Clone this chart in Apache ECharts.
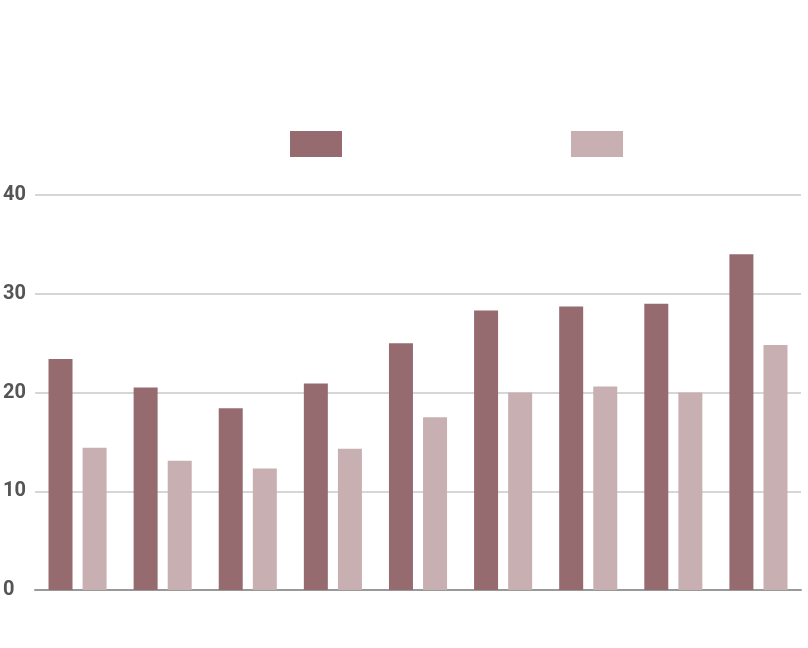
<!DOCTYPE html>
<html>
<head>
<meta charset="utf-8">
<script src="https://cdn.jsdelivr.net/npm/echarts@6/dist/echarts.min.js"></script>
<style>html,body{margin:0;padding:0;background:#fff}#c{width:808px;height:648px}</style>
</head>
<body>
<div id="c"></div>
<script>
const categories = ['1','2','3','4','5','6','7','8','9'];
const seriesA = [23.4, 20.5, 18.4, 20.9, 25.0, 28.3, 28.7, 29.0, 34.0];
const seriesB = [14.4, 13.1, 12.3, 14.3, 17.5, 20.0, 20.6, 20.0, 24.8];
const yTicks = [0, 10, 20, 30, 40];

const chart = echarts.init(document.getElementById('c'));
chart.setOption({
  animation: false,
  legend: [
    { data: ['A'], left: 285, top: 126, itemWidth: 52, itemHeight: 26, textStyle: { color: 'rgba(0,0,0,0)', fontSize: 1 }, selectedMode: false, icon: 'rect' },
    { data: ['B'], left: 566, top: 126, itemWidth: 52, itemHeight: 26, textStyle: { color: 'rgba(0,0,0,0)', fontSize: 1 }, selectedMode: false, icon: 'rect' }
  ],
  grid: { left: 32, right: 7, top: 195, bottom: 58, containLabel: false },
  xAxis: {
    type: 'category',
    data: categories,
    axisLine: { show: true, lineStyle: { color: '#999', width: 2 } },
    axisTick: { show: false },
    axisLabel: { show: false }
  },
  yAxis: {
    type: 'value',
    min: yTicks[0],
    max: yTicks[yTicks.length - 1],
    interval: 10,
    axisLine: { show: false },
    axisTick: { show: false },
    axisLabel: { align: 'left', margin: 32, color: '#555', fontSize: 20, fontFamily: 'Roboto', fontWeight: 'bold' },
    splitLine: { lineStyle: { color: '#c8c8c8', width: 1.5 } }
  },
  series: [
    { name: 'A', type: 'bar', data: seriesA, barWidth: 24, barGap: '42%', itemStyle: { color: '#966b70' } },
    { name: 'B', type: 'bar', data: seriesB, barWidth: 24, itemStyle: { color: '#c8b0b2' } }
  ]
});
</script>
</body>
</html>
